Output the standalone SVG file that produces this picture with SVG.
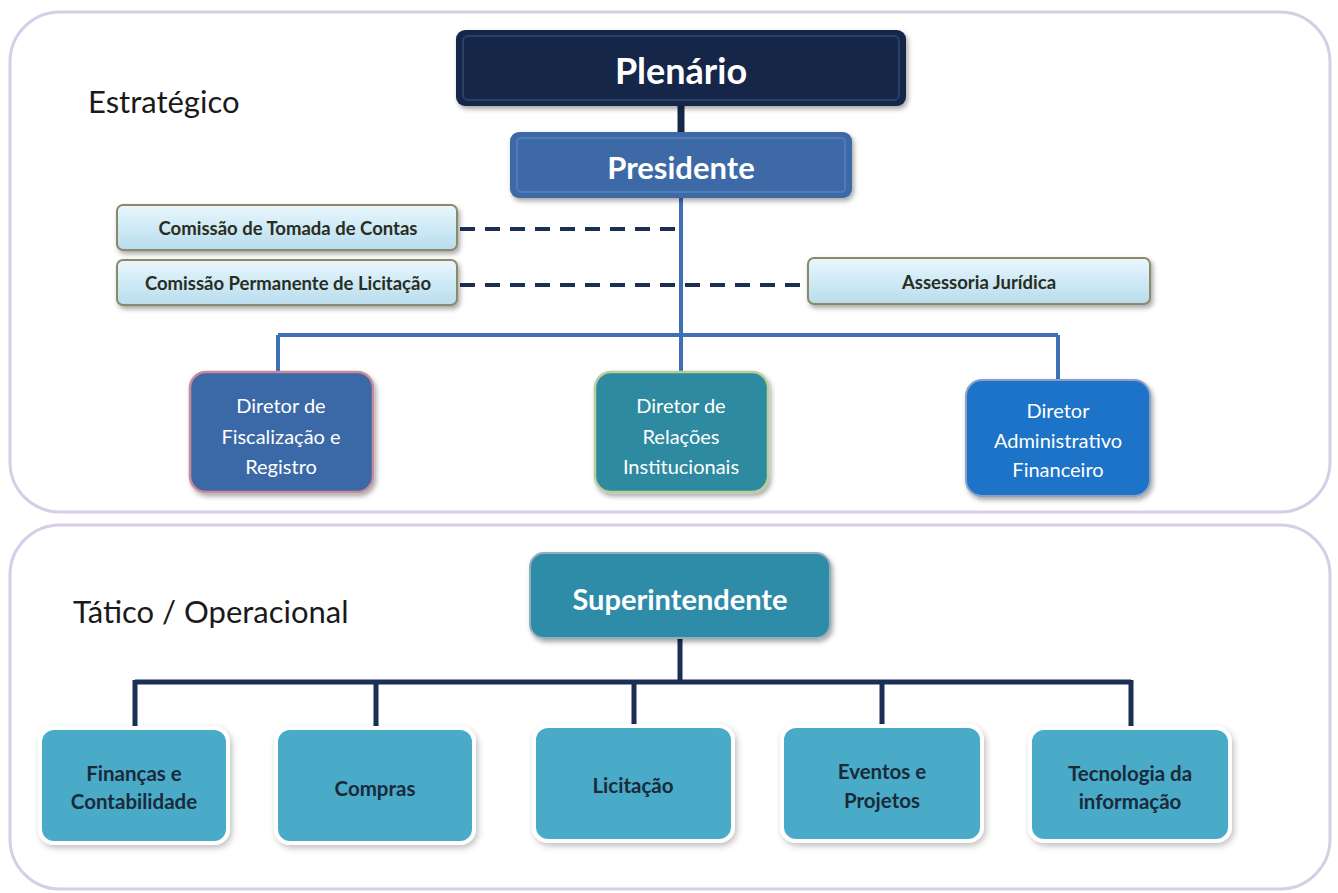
<svg xmlns="http://www.w3.org/2000/svg" width="1338" height="893" viewBox="0 0 1338 893">
<defs>
<linearGradient id="gLight" x1="0" y1="0" x2="0" y2="1">
<stop offset="0" stop-color="#eaf7fc"/><stop offset="0.5" stop-color="#cfeaf6"/><stop offset="1" stop-color="#b9dcec"/>
</linearGradient>
<filter id="sh" x="-10%" y="-10%" width="130%" height="140%">
<feDropShadow dx="2" dy="3" stdDeviation="2.5" flood-color="#000" flood-opacity="0.35"/>
</filter>
<filter id="shw" x="-10%" y="-10%" width="130%" height="140%">
<feDropShadow dx="2" dy="3" stdDeviation="3" flood-color="#000" flood-opacity="0.25"/>
</filter>
</defs>
<style>
.panel{fill:#fff;stroke:#d8cde6;stroke-width:3}
.lbl{font-family:Lato,"Open Sans",sans-serif;font-size:31px;fill:#1a1a1a}
.wb{font-family:Lato,"Open Sans",sans-serif;font-weight:bold;fill:#fff;text-anchor:middle}
.wn{font-family:Lato,"Open Sans",sans-serif;font-size:20px;fill:#fff;text-anchor:middle}
.db{font-family:Lato,"Open Sans",sans-serif;font-weight:bold;fill:#1a2a3a;text-anchor:middle}
.cb{font-family:Lato,"Open Sans",sans-serif;font-weight:bold;fill:#2a2e22;text-anchor:middle;font-size:18.5px}
.com{fill:url(#gLight);stroke:#8a8a6a;stroke-width:2;filter:url(#sh)}
.bot{fill:#4aabc8;stroke:#fff;stroke-width:4;filter:url(#shw)}
.blue{stroke:#3f6fb5;stroke-width:4;fill:none}
.navy{stroke:#1b2f55;stroke-width:5;fill:none}
.dash{stroke:#1b2f55;stroke-width:4;stroke-dasharray:15 10;fill:none}
</style>
<rect width="1338" height="893" fill="#fff"/>
<rect class="panel" x="10" y="12" width="1320" height="500" rx="50"/>
<rect class="panel" x="10" y="525" width="1320" height="364" rx="50"/>
<text class="lbl" x="88" y="113">Estratégico</text>
<text class="lbl" x="73" y="623">Tático / Operacional</text>

<g id="connectors">
<line x1="681" y1="104" x2="681" y2="134" stroke="#15284a" stroke-width="7"/>
<path class="blue" d="M681 198 V372 M278 335 H1058 M278 335 V374 M1058 335 V382"/>
<line class="dash" x1="460" y1="229" x2="680" y2="229"/>
<line class="dash" x1="460" y1="285" x2="808" y2="285"/>
<path class="navy" d="M680 638 V682 M135 682 H1131 M135 680 V730 M376 680 V730 M634 680 V730 M882 680 V730 M1131 680 V730"/>
</g>

<g id="plenario">
<rect x="456" y="30" width="450" height="76" rx="9" fill="#15284a" filter="url(#sh)"/>
<rect x="463" y="36" width="436" height="64" rx="5" fill="none" stroke="#2a3f66" stroke-width="2"/>
<text class="wb" x="681" y="84" font-size="36">Plenário</text>
</g>
<g id="presidente">
<rect x="510" y="132" width="342" height="66" rx="9" fill="#3e6aa6" filter="url(#sh)"/>
<rect x="517" y="138" width="328" height="54" rx="4" fill="none" stroke="#4f7cb7" stroke-width="2"/>
<text class="wb" x="681" y="179" font-size="31">Presidente</text>
</g>
<g id="comissao-tomada">
<rect class="com" x="117" y="205" width="340" height="45" rx="6"/>
<text class="cb" x="288" y="235">Comissão de Tomada de Contas</text>
</g>
<g id="comissao-licitacao">
<rect class="com" x="117" y="260" width="340" height="45" rx="6"/>
<text class="cb" x="288" y="290">Comissão Permanente de Licitação</text>
</g>
<g id="assessoria">
<rect class="com" x="808" y="258" width="342" height="46" rx="6"/>
<text class="cb" x="979" y="289">Assessoria Jurídica</text>
</g>
<g id="dir-fiscalizacao">
<rect x="190" y="372" width="183" height="120" rx="16" fill="#3b67a6" stroke="#c88a9a" stroke-width="2.5" filter="url(#sh)"/>
<text class="wn" x="281" y="413">Diretor de</text>
<text class="wn" x="281" y="444">Fiscalização e</text>
<text class="wn" x="281" y="474">Registro</text>
</g>
<g id="dir-relacoes">
<rect x="595" y="372" width="173" height="120" rx="16" fill="#2f8aa0" stroke="#b7cf9a" stroke-width="2.5" filter="url(#sh)"/>
<text class="wn" x="681" y="413">Diretor de</text>
<text class="wn" x="681" y="444">Relações</text>
<text class="wn" x="681" y="474">Institucionais</text>
</g>
<g id="dir-administrativo">
<rect x="966" y="380" width="184" height="116" rx="16" fill="#1a73c8" stroke="#8aa0c8" stroke-width="2" filter="url(#sh)"/>
<text class="wn" x="1058" y="418">Diretor</text>
<text class="wn" x="1058" y="448">Administrativo</text>
<text class="wn" x="1058" y="477">Financeiro</text>
</g>
<g id="superintendente">
<rect x="530" y="553" width="300" height="85" rx="14" fill="#2e8ca8" stroke="#8fb0bb" stroke-width="2" filter="url(#sh)"/>
<text class="wb" x="680" y="610" font-size="29">Superintendente</text>
</g>
<g id="financas">
<rect class="bot" x="40" y="728" width="188" height="115" rx="14"/>
<text class="db" x="134" y="781" font-size="20.5">Finanças e</text>
<text class="db" x="134" y="809" font-size="20.5">Contabilidade</text>
</g>
<g id="compras">
<rect class="bot" x="276" y="728" width="198" height="115" rx="14"/>
<text class="db" x="375" y="796" font-size="20.5">Compras</text>
</g>
<g id="licitacao">
<rect class="bot" x="534" y="726" width="199" height="115" rx="14"/>
<text class="db" x="633" y="793" font-size="20.5">Licitação</text>
</g>
<g id="eventos">
<rect class="bot" x="782" y="726" width="200" height="115" rx="14"/>
<text class="db" x="882" y="779" font-size="20.5">Eventos e</text>
<text class="db" x="882" y="808" font-size="20.5">Projetos</text>
</g>
<g id="tecnologia">
<rect class="bot" x="1030" y="728" width="200" height="113" rx="14"/>
<text class="db" x="1130" y="781" font-size="20.5">Tecnologia da</text>
<text class="db" x="1130" y="809" font-size="20.5">informação</text>
</g>
</svg>
